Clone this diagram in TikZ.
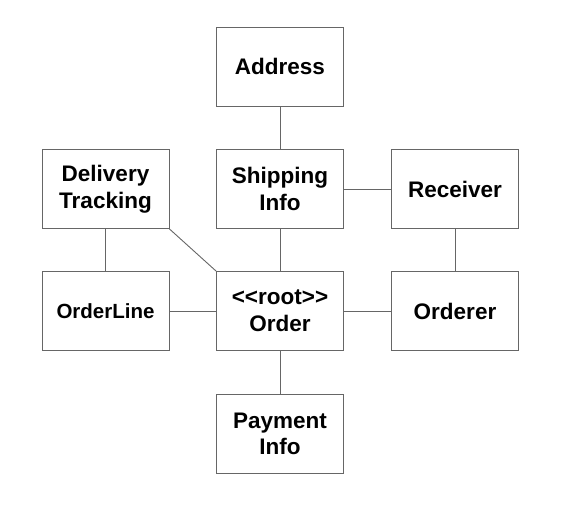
\documentclass[tikz,border=0pt]{standalone}
\usepackage{fontspec}
\setmainfont{Liberation Sans}
\begin{document}
\begin{tikzpicture}[x=1pt,y=-1pt,
  box/.style={draw=black!60,line width=0.9pt,minimum width=127pt,minimum height=79pt,inner sep=0pt,align=center,font=\fontsize{22.5}{26.5}\selectfont\bfseries},
  small/.style={font=\fontsize{20.5}{24}\selectfont\bfseries},
  conn/.style={draw=black!60,line width=0.9pt}]
\useasboundingbox (0,0) rectangle (565,521);
\node[box] (addr) at (280,66.5) {Address};
\node[box] (ship) at (280,189) {Shipping\\Info};
\node[box] (deliv) at (105.5,189) {Delivery\\Tracking};
\node[box] (recv) at (455,189) {Receiver};
\node[box,small] (line) at (105.5,311) {OrderLine};
\node[box] (order) at (280,311) {{<}{<}root{>}{>}\\Order};
\node[box] (orderer) at (455,311) {Orderer};
\node[box] (pay) at (280,434) {Payment\\Info};
\draw[conn] (addr) -- (ship);
\draw[conn] (ship) -- (recv);
\draw[conn] (ship) -- (order);
\draw[conn] (deliv) -- (line);
\draw[conn] (deliv.south east) -- (order.north west);
\draw[conn] (line) -- (order);
\draw[conn] (order) -- (orderer);
\draw[conn] (recv) -- (orderer);
\draw[conn] (order) -- (pay);
\end{tikzpicture}
\end{document}
